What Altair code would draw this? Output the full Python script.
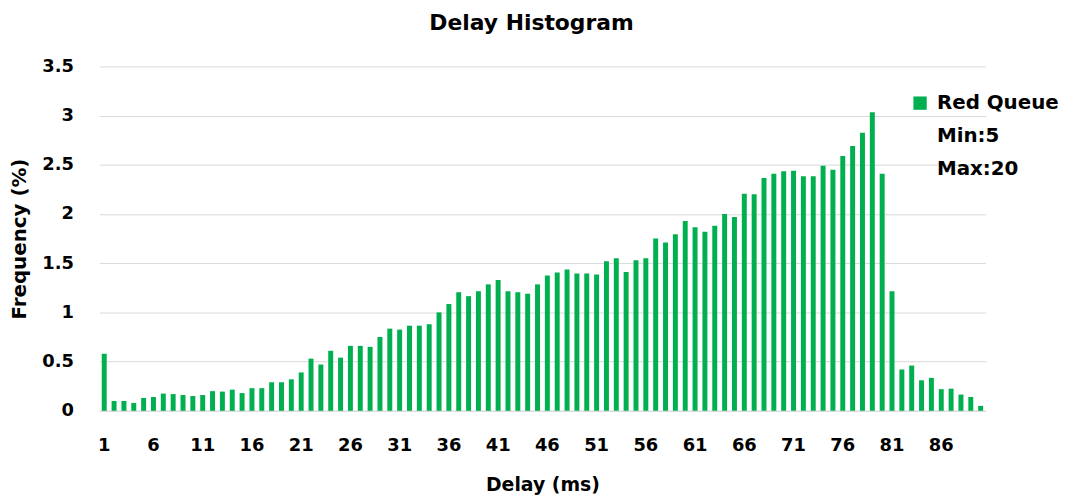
import altair as alt
import pandas as pd

delays = list(range(1, 91))
freq = [
    0.58, 0.10, 0.10, 0.08, 0.13, 0.14, 0.175, 0.17, 0.16, 0.15,
    0.16, 0.20, 0.195, 0.215, 0.18, 0.23, 0.23, 0.29, 0.29, 0.32,
    0.39, 0.53, 0.47, 0.61, 0.54, 0.66, 0.66, 0.65, 0.75, 0.835,
    0.825, 0.865, 0.865, 0.88, 1.0, 1.085, 1.205, 1.165, 1.215, 1.285,
    1.33, 1.215, 1.205, 1.19, 1.285, 1.375, 1.405, 1.435, 1.395, 1.395,
    1.385, 1.52, 1.55, 1.41, 1.53, 1.55, 1.75, 1.71, 1.795, 1.93,
    1.865, 1.82, 1.88, 2.0, 1.97, 2.205, 2.2, 2.365, 2.41, 2.435,
    2.44, 2.385, 2.385, 2.49, 2.45, 2.59, 2.69, 2.825, 3.035, 2.41,
    1.215, 0.42, 0.46, 0.31, 0.335, 0.22, 0.225, 0.165, 0.14, 0.05,
]
tick_values = list(range(1, 90, 5))
y_ticks = [0, 0.5, 1, 1.5, 2, 2.5, 3, 3.5]
legend_entries = ["Red Queue", "Min:5", "Max:20"]
legend_colors = ["#00B050", "transparent", "transparent"]

df = pd.DataFrame({"delay": delays, "freq": freq, "series": "Red Queue"})

FONT = "DejaVu Sans"

chart = (
    alt.Chart(df)
    .mark_bar(size=5)
    .encode(
        x=alt.X(
            "delay:O",
            title="Delay (ms)",
            scale=alt.Scale(paddingInner=0, paddingOuter=0),
            axis=alt.Axis(
                values=tick_values,
                labelAngle=0,
                ticks=False,
                domain=True,
                domainColor="#d9d9d9",
                labelPadding=26,
                labelFontSize=18,
                labelFont=FONT,
                labelFontWeight="bold",
                labelColor="#000000",
                titleFont=FONT,
                titleFontSize=19,
                titleFontWeight="bold",
                titleColor="#000000",
                titlePadding=21,
            ),
        ),
        y=alt.Y(
            "freq:Q",
            title="Frequency (%)",
            scale=alt.Scale(domain=[0, 3.5], nice=False),
            axis=alt.Axis(
                values=y_ticks,
                format=".1~f",
                ticks=False,
                domain=False,
                labelPadding=26,
                labelFontSize=18,
                labelFont=FONT,
                labelFontWeight="bold",
                labelColor="#000000",
                gridColor="#d9d9d9",
                titleFont=FONT,
                titleFontSize=20,
                titleFontWeight="bold",
                titleColor="#000000",
                titlePadding=12,
            ),
        ),
        color=alt.Color(
            "series:N",
            scale=alt.Scale(domain=legend_entries, range=legend_colors),
            legend=alt.Legend(
                title=None,
                orient="none",
                legendX=817,
                legendY=27,
                symbolType="square",
                symbolSize=180,
                symbolStrokeWidth=0,
                labelFont=FONT,
                labelFontSize=20,
                labelFontWeight="bold",
                labelColor="#000000",
                labelOffset=7,
                rowPadding=13,
            ),
        ),
    )
    .properties(
        width=893,
        height=347,
        title=alt.TitleParams(
            "Delay Histogram",
            font=FONT,
            fontSize=22,
            fontWeight="bold",
            color="#000000",
            dx=-11,
            offset=23,
        ),
        autosize=alt.AutoSizeParams(type="none"),
        padding={"left": 92, "top": 57, "right": 75, "bottom": 86},
    )
    .configure_view(stroke=None)
)

chart.save("out.html", embed_options={"renderer": "svg", "actions": False})
